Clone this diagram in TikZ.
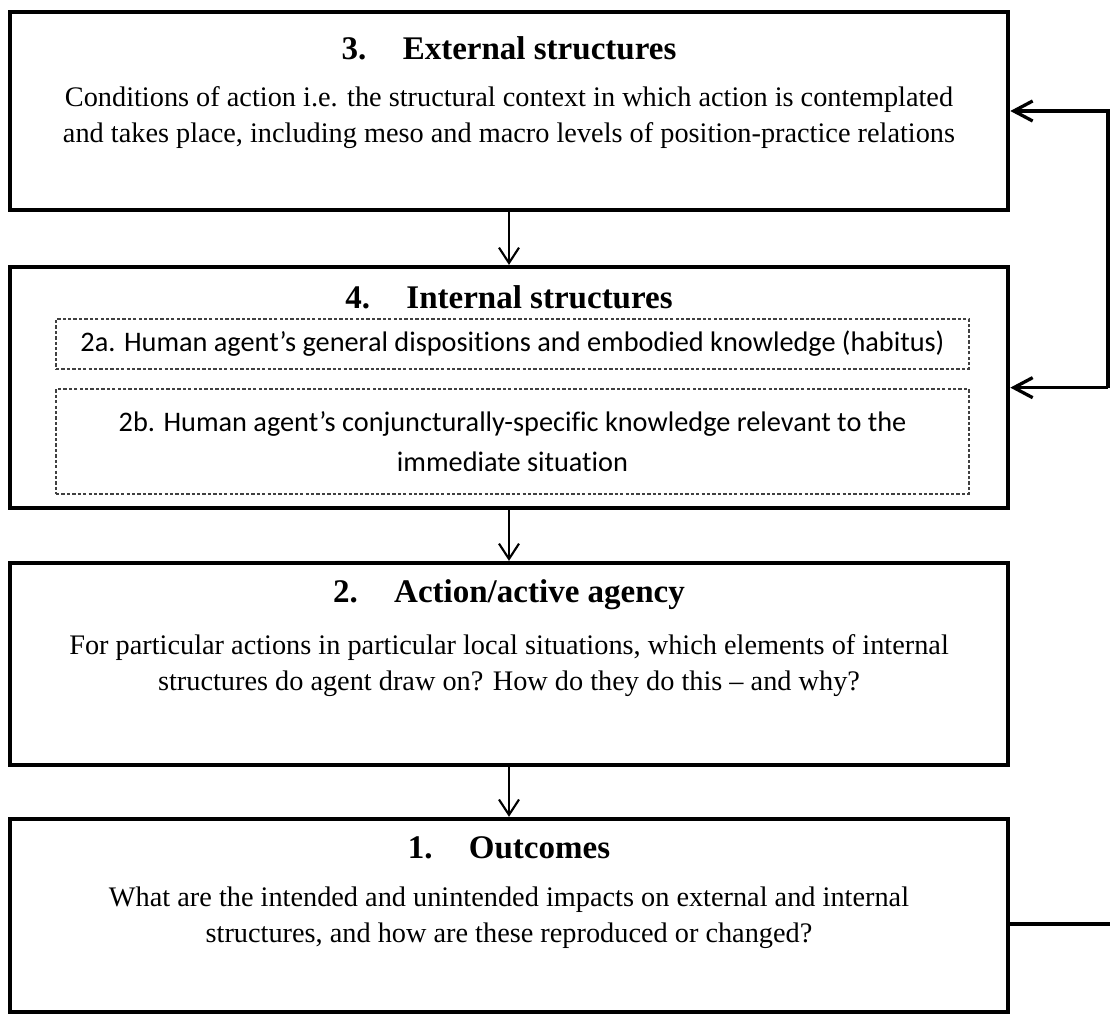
\documentclass[tikz,border=0pt]{standalone}
\usepackage{fontspec}
\setmainfont{Liberation Serif}
\newfontfamily\calib[Ligatures=NoCommon, Contextuals=NoAlternate, RawFeature={-liga;-clig;-calt}]{Carlito}
\usetikzlibrary{positioning,arrows.meta}

\begin{document}
\begin{tikzpicture}[
        x=0.424pt, y=-0.424pt,
        >={Straight Barb[length=6.5pt, width=8.5pt]},
        box/.style={draw, line width=1.9pt, minimum width=423.2pt, outer sep=0pt, inner sep=0pt},
        ttl/.style={font=\fontsize{14}{16}\selectfont\bfseries, align=center},
        body/.style={font=\fontsize{12}{15.3}\selectfont, align=center},
        subbox/.style={draw=black!75, line width=0.45pt, dash pattern=on 1.4pt off 0.9pt,
                       minimum width=387.1pt, font=\calib\fontsize{12}{17}\selectfont, align=center},
        flow/.style={->, line width=0.9pt, shorten >=0.95pt},
        back/.style={->, line width=1.4pt, shorten >=0.95pt, >={Straight Barb[length=8pt, width=8.5pt]}}
    ]
        \useasboundingbox (0,0) rectangle (1110,1016);

        % the four boxes, top to bottom
        \node[box, minimum height=84pt] (ext) at (509,111) {};
        \node[box, minimum height=102.2pt, below=24.2pt of ext] (int) {};
        \node[box, minimum height=85.6pt, below=23.3pt of int] (act) {};
        \node[box, minimum height=81.8pt, below=22.9pt of act] (out) {};

        \node[ttl] (ext-t) at (509,48) {3.\hspace{1.1em}External structures};
        \node[body] (ext-b) at (509,118) {Conditions of action i.e. the structural context in which action is contemplated\\
            and takes place, including meso and macro levels of position-practice relations};

        \node[ttl] (int-t) at (509,297) {4.\hspace{1.1em}Internal structures};
        \node[subbox, minimum height=21.2pt] (hab) at (512.5,344) {2a. Human agent’s general dispositions and embodied knowledge (habitus)};
        \node[subbox, minimum height=44.5pt] (conj) at (512.5,441.5) {2b. Human agent’s conjuncturally-specific knowledge relevant to the\\ immediate situation};

        \node[ttl] (act-t) at (509,595) {2.\hspace{1.1em}Action/active agency};
        \node[body] (act-b) at (509,666) {For particular actions in particular local situations, which elements of internal\\
            structures do agent draw on? How do they do this -- and why?};

        \node[ttl] (out-t) at (509,848) {1.\hspace{1.1em}Outcomes};
        \node[body] (out-b) at (509,918) {What are the intended and unintended impacts on external and internal\\
            structures, and how are these reproduced or changed?};

        \draw[flow] (ext.south) -- (int.north);
        \draw[flow] (int.south) -- (act.north);
        \draw[flow] (act.south) -- (out.north);

        % feedback on the right
        \coordinate (fb) at (1108,0);
        \coordinate (ret) at (1110,924);
        \draw[back] (int.east -| fb) |- (ext.east);
        \draw[back] (int.east -| fb) -- (int.east);
        \draw[line width=2pt] (out.east |- ret) -- (ret);
    \end{tikzpicture}
\end{document}
